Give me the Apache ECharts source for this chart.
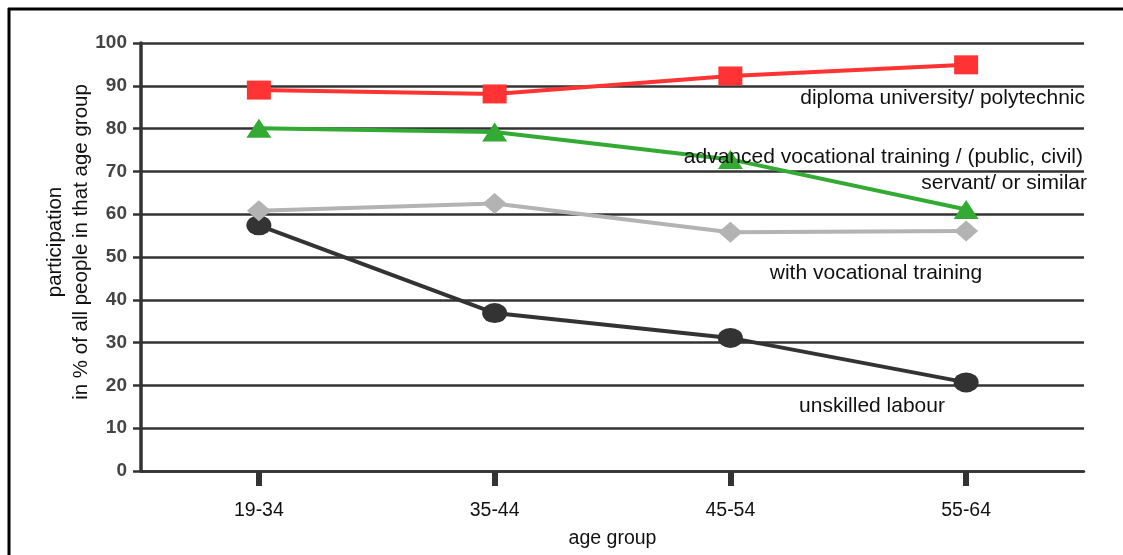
<!DOCTYPE html>
<html>
<head>
<meta charset="utf-8">
<script src="https://cdn.jsdelivr.net/npm/echarts@6/dist/echarts.min.js"></script>
<style>
html,body{margin:0;padding:0;background:#fff;}
#c{width:1123px;height:555px;}
</style>
</head>
<body>
<div id="c"></div>
<script>
const categories = ['19-34', '35-44', '45-54', '55-64'];
const diploma = [89.0, 88.1, 92.3, 94.9];
const advanced = [80.1, 79.2, 72.8, 61.1];
const vocational = [60.8, 62.5, 55.8, 56.1];
const unskilled = [57.4, 36.9, 31.1, 20.7];
const yTicks = [0, 10, 20, 30, 40, 50, 60, 70, 80, 90, 100];

const FONT = 'Liberation Sans, Arial, sans-serif';
const chart = echarts.init(document.getElementById('c'));

function lineSeries(name, data, color, symbol, size) {
  return {
    name: name, type: 'line', data: data,
    symbol: symbol, symbolSize: size,
    lineStyle: {color: color, width: 4},
    itemStyle: {color: color},
    emphasis: {disabled: true},
    animation: false
  };
}

chart.setOption({
  animation: false,
  grid: {left: 141, right: 39, top: 43, bottom: 84},
  xAxis: {
    type: 'category', data: categories, boundaryGap: true,
    axisLine: {lineStyle: {color: '#333', width: 2.5}},
    axisTick: {show: true, alignWithLabel: true, length: 15, lineStyle: {color: '#333', width: 6}},
    axisLabel: {color: '#111', fontSize: 19.5, fontFamily: FONT, margin: 30},
    name: 'age group', nameLocation: 'middle', nameGap: 58,
    nameTextStyle: {color: '#111', fontSize: 19.5, fontFamily: FONT},
    splitLine: {show: false}
  },
  yAxis: {
    type: 'value', min: yTicks[0], max: yTicks[yTicks.length - 1], interval: 10,
    axisLine: {show: true, lineStyle: {color: '#333', width: 3.5}},
    axisTick: {show: true, length: 8, lineStyle: {color: '#333', width: 2.5}},
    axisLabel: {color: '#444', fontSize: 19, fontWeight: 'bold', fontFamily: FONT, margin: 14},
    splitLine: {show: true, lineStyle: {color: '#333', width: 2.5}}
  },
  series: [
    lineSeries('unskilled labour', unskilled, '#333333', 'circle', [25, 20]),
    lineSeries('with vocational training', vocational, '#b3b3b3', 'diamond', [24, 21]),
    lineSeries('advanced vocational training', advanced, '#33aa33', 'triangle', [25, 19]),
    lineSeries('diploma university/ polytechnic', diploma, '#ff3333', 'rect', [24, 19])
  ],
  graphic: [
    {type: 'line', shape: {x1: 9, y1: 8, x2: 9, y2: 555}, style: {stroke: '#000', lineWidth: 3}, z: 100},
    {type: 'line', shape: {x1: 8, y1: 9, x2: 1123, y2: 9}, style: {stroke: '#000', lineWidth: 3}, z: 100},
    {type: 'text', x: 68, y: 242, rotation: Math.PI / 2, z: 100,
      style: {text: 'participation\nin % of all people in that age group', fill: '#111',
        font: '20.5px ' + FONT, align: 'center', verticalAlign: 'middle', lineHeight: 26}},
    {type: 'text', x: 1085, y: 98, z: 100,
      style: {text: 'diploma university/ polytechnic', fill: '#111', font: '21px ' + FONT, align: 'right', verticalAlign: 'middle'}},
    {type: 'text', x: 1083, y: 157, z: 100,
      style: {text: 'advanced vocational training / (public, civil)', fill: '#111', font: '21px ' + FONT, align: 'right', verticalAlign: 'middle'}},
    {type: 'text', x: 1087, y: 183, z: 100,
      style: {text: 'servant/ or similar', fill: '#111', font: '21px ' + FONT, align: 'right', verticalAlign: 'middle'}},
    {type: 'text', x: 876, y: 273, z: 100,
      style: {text: 'with vocational training', fill: '#111', font: '21px ' + FONT, align: 'center', verticalAlign: 'middle'}},
    {type: 'text', x: 872, y: 406, z: 100,
      style: {text: 'unskilled labour', fill: '#111', font: '21px ' + FONT, align: 'center', verticalAlign: 'middle'}}
  ]
});
</script>
</body>
</html>
